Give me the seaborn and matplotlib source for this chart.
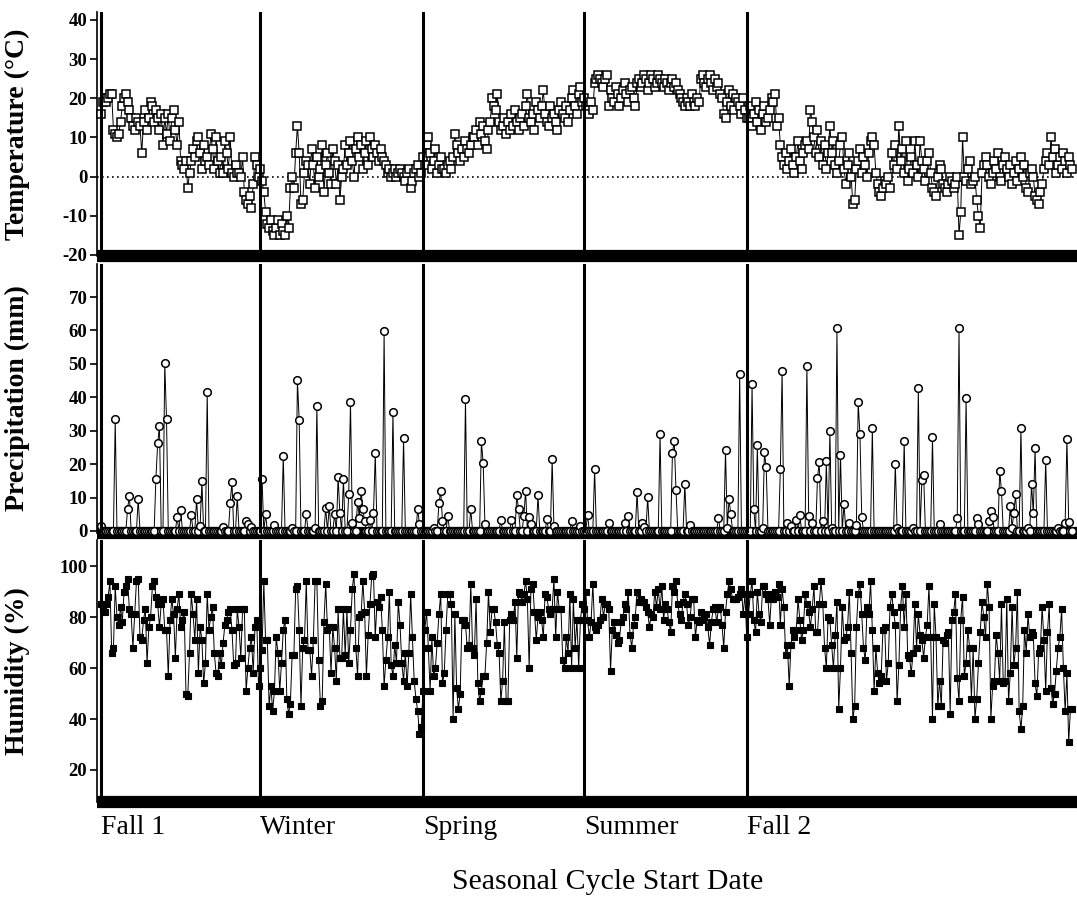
import numpy as np
import pandas as pd
import matplotlib
matplotlib.use("Agg")
import matplotlib.pyplot as plt
import seaborn as sns


### Season start (day index counted from Fall 1)
season_days = [0, 90, 182, 273, 365]
season_labels = ["Fall 1", "Winter", "Spring", "Summer", "Fall 2"]

### Daily mean temperature (C), day 0 .. 549
temperature = [
    16, 19, 20, 19, 20, 21, 21, 12, 11, 10, 11, 14, 18, 20, 21, 19, 17,
    15, 13, 12, 15, 14, 13, 6, 14, 17, 12, 15, 19, 18, 14,
    17, 15, 12, 16, 8, 15, 11, 16, 9, 15, 17, 12, 8, 14,
    4, 3, 2, 4, -3, 1, 4, 7, 5, 9, 10, 6, 2, 8, 4,
    5, 3, 11, 7, 2, 10, 4, 1, 5, 1, 9, 6, 2, 10, 1, 0, 3, 1, 1, 0, 5,
    -4, -6, -7, -5, -8, -2, 5, 3, 0, 2, -1,
    -4, -9, -12, -13, -11, -14, -15, -13, -11, -15, -12, -14, -15, -10, -13, -3, 0, -3, 6,
    13, 6, -7, -6, 1, 4, 3, -2, 7, 3, -3, 5, 0, 2, 8, -4, 3, 6, 1, -2, 7,
    4, -2, 3, -6, 0, 2, 8, 3, 6, 9, 4, 0, 7, 10, 5, 8, 2, 6, 9, 3, 10,
    7, 5, 8, 6, 4, 7, 5, 4, 3,
    1, 2, 0, 1, 2, 0, 1, 2, 1, 0, -1, 1, 2, -3, -1, 1, 2, 3, 0, 1,
    5, 3, 8, 10, 6, 2, 4, 7, 1, 3, 5, 2, 2, 1, 3, 4, 2, 5,
    11, 8, 6, 4, 7, 5, 9, 7, 6, 8, 10, 10, 12, 8, 14, 11, 13, 9, 7, 12, 14,
    20, 18, 17, 21,
    14, 12, 13, 15, 11, 14, 12, 16, 13, 17, 14, 12, 15, 16, 13, 18, 21, 15, 14, 16,
    12, 19, 17, 15, 18, 22, 16, 14, 13, 18, 15, 16, 14, 12, 17, 19, 16, 15, 18, 14,
    17, 20, 22, 18, 16, 21, 23, 19, 20,
    18, 17, 16, 19, 17, 24, 25, 26, 25, 24, 23, 25, 26, 18,
    22, 20, 19, 23, 21, 18, 20, 22, 24, 21, 19, 22, 23, 20, 18,
    24, 25, 23, 24, 26, 25, 22, 24, 26, 25, 23, 24, 26, 25, 24, 23, 25, 24, 22, 24, 25, 23, 24, 22,
    21, 20, 19, 18, 20, 19, 18, 21, 19, 18, 20, 19,
    25, 26, 24, 23, 25, 26, 24, 22, 25, 23, 24, 21,
    20, 16, 15, 19, 22, 18, 21, 17, 20, 19, 18, 16, 20, 17, 15,
    15, 18, 13, 16, 19, 14, 17, 12, 16, 18, 14, 15, 17, 20, 19, 21, 13, 15,
    8, 5, 3, 6, 2, 4, 7, 3, 1, 5, 9, 4, 2, 6, 8,
    9, 7, 17, 14, 10, 6, 12, 5, 9, 3, 8, 2, 6,
    13, 6, 9, 3, 1, 4, 8, 10, 2, -2, 3, 6, 0, -7, -6, 2, 4, 7, 1, 5,
    3, 0, 6, 9, 10, 8, 1, -2, -4, -5, -3, -1, -2, 0, -3,
    6, 3, 8, 2, 13, 4, 7, 1, 9, -1, 2, 5, 1, 9, 3, 0, 9, 4, 2, -1,
    4, 6, 1, -3, -4, -5, 0, 3, 2, -2, -3, -4, -2, 0, -1, -3, -2, 0,
    -15, -9, 10, 0, -1, 2, 4, -2, -1, 0, -6, -10, -13, 1, 3,
    5, 3, 0, -2, 1, 4, 2, 6, 0, -1, 3, 5,
    2, 0, 3, -2, 1, 4, -1, 2, 5, 0, 3, -3, -4, 1, 2, 0, -5, -6, -7, -4,
    -2, 2, 4, 6, 3, 10, 5, 7, 1, 3, 5, 2, 6, 4, 1, 5, 3, 2,
]

### Rain days (day index) and amount (mm); every other day is 0
rain_days = [
    0, 8, 15, 16, 21, 31, 32, 33, 36, 37, 43, 45, 51, 54, 56, 57, 60, 69, 73, 74,
    77, 82, 83, 85, 91, 93, 98, 103, 108, 111, 112, 116, 121, 122, 127, 129, 132, 134, 135, 137,
    140, 141, 142, 145, 146, 147, 148, 149, 152, 154, 155, 160, 165, 171, 179, 180, 188, 191, 192, 193,
    196, 206, 209, 215, 216, 217, 226, 232, 235, 236, 239, 240, 242, 243, 247, 252, 255, 256, 266, 271,
    275, 279, 287, 296, 298, 303, 306, 307, 309, 316, 323, 324, 325, 330, 333, 349, 353, 354, 355, 356,
    361, 368, 369, 371, 374, 375, 376, 384, 385, 388, 390, 393, 395, 399, 400, 402, 405, 406, 408, 410,
    412, 413, 416, 418, 420, 423, 427, 428, 429, 430, 436, 449, 450, 454, 459, 462, 464, 465, 470, 474,
    484, 485, 489, 495, 496, 502, 503, 504, 508, 509, 514, 515, 516, 517, 520, 524, 526, 527, 528, 534,
    541, 545, 546, 547,
]
rain_mm = [
    1.6, 33.4, 6.7, 10.6, 9.7, 15.7, 26.2, 31.4, 50.2, 33.6, 4.2, 6.3, 4.7, 9.7, 1.6, 14.9, 41.6, 1.2, 8.4, 14.8,
    10.4, 2.9, 2.2, 1.3, 15.6, 5.0, 1.8, 22.4, 0.8, 45.2, 33.1, 5.0, 0.8, 37.4, 6.8, 7.5, 5.0, 16.3, 5.3, 15.7,
    11.0, 38.6, 2.5, 8.8, 4.0, 12.0, 6.5, 3.0, 3.3, 5.3, 23.3, 59.8, 35.7, 27.7, 6.6, 2.0, 1.0, 8.3, 12.0, 3.0,
    4.6, 39.6, 6.5, 26.8, 20.4, 2.0, 3.4, 3.3, 10.7, 6.5, 4.5, 12.0, 4.2, 2.0, 10.7, 3.5, 21.4, 1.5, 3.0, 1.5,
    4.9, 18.5, 2.4, 2.4, 4.6, 11.6, 2.3, 1.3, 10.1, 28.9, 23.3, 27.0, 12.4, 14.1, 1.8, 4.0, 24.3, 1.0, 9.5, 5.0,
    47.0, 43.9, 6.6, 25.6, 0.8, 23.5, 19.2, 18.6, 48.0, 2.4, 1.5, 3.4, 4.9, 49.4, 4.5, 2.3, 16.0, 20.5, 3.0, 20.8,
    29.9, 1.0, 60.8, 22.8, 8.2, 2.3, 1.9, 38.6, 28.9, 4.3, 30.8, 20.1, 0.8, 27.0, 0.8, 42.7, 15.2, 16.8, 28.0, 2.2,
    3.8, 60.8, 39.8, 3.9, 2.2, 3.1, 5.9, 4.1, 18.1, 12.0, 7.4, 1.0, 5.5, 11.0, 30.9, 0.8, 14.1, 5.3, 24.9, 21.3,
    0.8, 2.3, 27.6, 2.8,
]

### Daily relative humidity (%), day 0 .. 549
humidity = [
    85, 83, 82, 85, 88, 94, 66, 68, 92, 80, 77, 84, 78, 90, 92, 95, 83, 81, 68, 81,
    94, 95, 72, 71, 79, 83, 62, 76, 80, 92, 94, 88, 85, 76, 85, 87, 75, 75, 57, 79,
    87, 81, 64, 83, 89, 76, 79, 82, 50, 49, 66, 89, 81, 71, 87, 58, 76, 71, 54, 62,
    89, 75, 80, 84, 66, 58, 57, 66, 61, 70, 77, 79, 82, 83, 75, 61, 62, 83, 76, 64,
    83, 83, 51, 60, 68, 72, 58, 76, 79, 53, 60, 67, 94, 71, 71, 45, 53, 43, 51, 72,
    66, 51, 62, 75, 79, 48, 42, 46, 65, 65, 91, 92, 75, 45, 68, 71, 94, 67, 67, 57,
    71, 94, 94, 63, 45, 47, 78, 93, 75, 76, 58, 76, 68, 55, 83, 64,
    64, 83, 65, 83, 62, 75, 91, 97, 68, 57, 80, 81, 94, 82, 57, 73, 85, 96, 97, 72,
    86, 84, 88, 75, 53, 63, 72, 90, 61, 57, 69, 62, 86, 77, 62, 55, 66, 53, 66, 89,
    72, 55, 48, 43, 34, 37, 51, 75, 82, 68, 51, 72, 57, 60, 70, 81, 89, 54, 58, 75,
    89, 89, 85, 40, 81, 52, 44, 50, 79, 79, 77, 68, 69, 93, 68, 65, 87, 54, 47, 51,
    57, 57, 70, 90, 74, 83, 83, 78, 69, 66, 47, 55, 78, 47, 47, 79, 81, 79, 86, 64,
    90, 89, 86, 89, 94, 87, 60, 91, 93, 82, 71, 80, 82, 79, 72, 89, 88, 83,
    81, 83, 95, 72, 90, 83, 83, 63, 60, 72, 66, 89, 60, 87, 68, 79, 60, 79, 85, 83,
    90, 79, 72, 78, 93, 76, 75, 77, 79, 87, 80, 85, 85, 83, 59, 75, 78, 73, 70, 71,
    78, 80, 85, 83, 90, 73, 68, 77, 80, 90, 86, 87, 86, 86, 84, 82, 76, 81, 80,
    90, 84, 91, 83, 92, 79, 85, 83, 78, 74, 92, 90, 94, 85, 81, 79, 86, 89, 85,
    77, 80, 87, 87, 72, 79, 78, 82, 79, 80, 81, 76, 69, 78, 83, 84, 78, 83,
    84, 77, 68, 82, 89, 94, 91, 87, 87, 87, 88, 89, 91, 81, 89, 72, 81, 89, 94,
    79, 74, 90, 81, 78, 92, 92, 89, 87, 77, 89, 87, 90, 88, 93, 77, 91, 84,
    65, 69, 53, 69, 75, 72, 75, 87, 79, 71, 75, 89, 85, 82, 76, 83, 92, 74, 74,
    85, 94, 85, 68, 60, 80,
    79, 69, 60, 73, 86, 44, 60, 84, 71, 72, 76, 90, 66, 40, 45, 76, 89, 93, 81, 68,
    63, 84, 81, 94, 75, 51, 68, 58, 54, 57, 75, 76, 55, 62, 84, 89, 82, 77,
    47, 61, 84, 92, 76, 89, 65, 64, 58, 66, 85, 68, 81, 73, 71, 64, 72, 77,
    92, 72, 40, 85, 72, 45, 55, 45, 71, 70, 73, 74, 42, 79, 82, 89, 56, 47, 79,
    88, 57, 62, 75, 68, 48, 68, 40, 48, 62, 74, 86, 80, 72, 93, 84, 40, 53, 55,
    73, 66, 55, 85, 54, 55, 87, 47, 58, 84, 61, 68, 90, 43, 36, 45, 75, 66, 81,
    72, 74, 73, 54, 49, 66, 68, 84, 71, 51, 74, 85, 52, 46, 50, 59, 68, 72,
    83, 60, 43, 58, 31, 44, 44,
]

W, H = 1077, 898
SERIF = ["Liberation Serif", "DejaVu Serif"]


def add_panel(fig, top, bottom):
    # panel placed with pixel coordinates (top-left origin)
    left, right = 97, 1077
    return fig.add_axes([left / W, 1 - bottom / H, (right - left) / W, (bottom - top) / H])


def style_panel(ax, ylim, yticks, ylabel):
    ax.set_xlim(-2.3, 551.7)
    ax.set_ylim(*ylim)
    ax.set_yticks(yticks)
    ax.set_yticklabels([str(t) for t in yticks], fontweight="bold", fontsize=13.5, family=SERIF)
    ax.set_ylabel(ylabel, fontweight="bold", fontsize=20, family=SERIF)
    ax.yaxis.set_label_coords(-0.068, 0.5)
    ax.set_xlabel("")
    for side in ["top", "right"]:
        ax.spines[side].set_visible(False)
    ax.spines["left"].set_linewidth(1.2)
    ax.spines["bottom"].set_linewidth(8.8)
    ax.spines["bottom"].set_capstyle("butt")
    ax.tick_params(axis="y", direction="out", length=5, width=1.2, pad=2, color="black")
    ax.tick_params(axis="x", length=0)
    for d in season_days:
        ax.axvline(d, color="black", linewidth=2.2, zorder=4)


sns.set_style("ticks", {"axes.edgecolor": "black", "xtick.color": "black",
                        "ytick.color": "black", "text.color": "black",
                        "axes.labelcolor": "black"})
plt.rcParams["font.family"] = SERIF

df = pd.DataFrame({"day": np.arange(len(temperature)), "temp": temperature, "hum": humidity})
precip = np.zeros(len(df))
precip[rain_days] = rain_mm
df["precip"] = precip

fig = plt.figure(figsize=(W / 100, H / 100), dpi=100)
ax1 = add_panel(fig, 12, 256)
ax2 = add_panel(fig, 264, 533)
ax3 = add_panel(fig, 540, 802)

# Temperature
ax1.axhline(0, color="black", linestyle=(0, (1, 2)), linewidth=1.2, zorder=1)
sns.lineplot(data=df, x="day", y="temp", ax=ax1, color="black", linewidth=0.7,
             marker="s", markersize=6, markerfacecolor="white", markeredgecolor="black",
             markeredgewidth=1.1, zorder=3, clip_on=False)
style_panel(ax1, (-20.26, 42.04), list(range(-20, 41, 10)), "Temperature (°C)")
ax1.set_xticklabels([])

# Precipitation
sns.lineplot(data=df, x="day", y="precip", ax=ax2, color="black", linewidth=0.7,
             marker="o", markersize=5.5, markerfacecolor="white", markeredgecolor="black",
             markeredgewidth=1.1, zorder=3, clip_on=False)
style_panel(ax2, (-0.6, 79.9), list(range(0, 71, 10)), "Precipitation (mm)")
ax2.set_xticklabels([])

# Humidity
sns.lineplot(data=df, x="day", y="hum", ax=ax3, color="black", linewidth=0.7,
             marker="s", markersize=4.5, markerfacecolor="black", markeredgecolor="black",
             markeredgewidth=0.8, zorder=3, clip_on=False)
style_panel(ax3, (7.45, 110.2), list(range(20, 101, 20)), "Humidity (%)")
ax3.set_xticks(season_days)
ax3.set_xticklabels(season_labels, ha="left", fontsize=20, family=SERIF)
ax3.tick_params(axis="x", pad=9)

fig.text(608 / W, 1 - 882 / H, "Seasonal Cycle Start Date", ha="center", va="center",
         fontsize=21.5, family=SERIF)

fig.savefig("out.png", dpi=100)
